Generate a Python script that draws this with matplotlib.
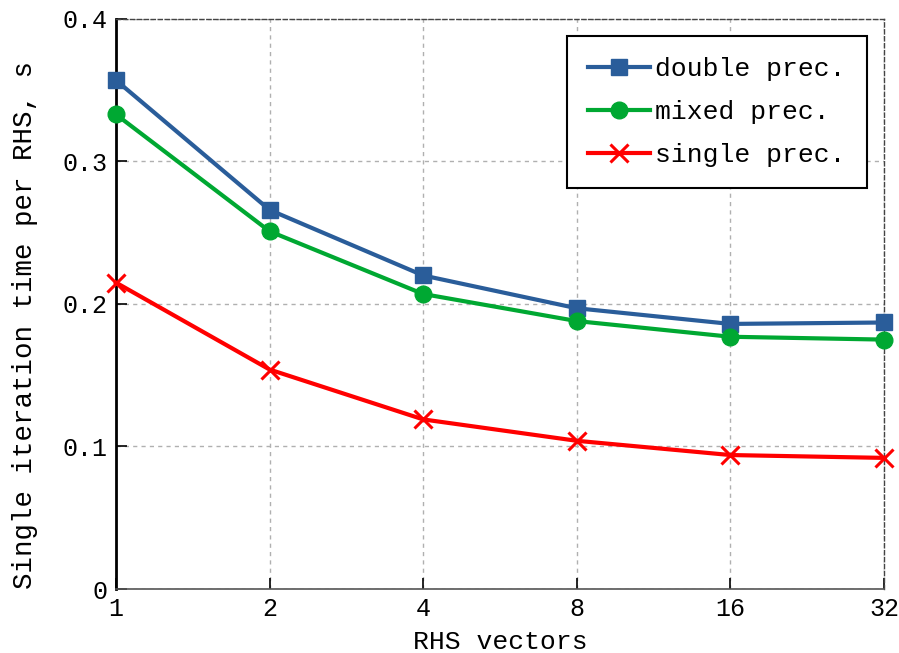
import matplotlib
matplotlib.use("Agg")
import matplotlib.pyplot as plt

rhs = [1, 2, 4, 8, 16, 32]
double_prec = [0.357, 0.266, 0.220, 0.197, 0.186, 0.187]
mixed_prec = [0.333, 0.251, 0.207, 0.188, 0.177, 0.175]
single_prec = [0.215, 0.154, 0.119, 0.104, 0.094, 0.092]
yticks = [0, 0.1, 0.2, 0.3, 0.4]
ytick_labels = ["0", "0.1", "0.2", "0.3", "0.4"]

plt.rcParams["font.family"] = ["Liberation Mono", "DejaVu Sans Mono"]
plt.rcParams["font.size"] = 19

fig = plt.figure(figsize=(8.99, 6.53), dpi=100)
ax = fig.add_axes([0.129, 0.098, 0.8543, 0.873])

ax.plot(rhs, double_prec, color="#2a5d9a", lw=3, marker="s", ms=12,
        label="double prec.", zorder=3, clip_on=False)
ax.plot(rhs, mixed_prec, color="#00a832", lw=3, marker="o", ms=12,
        label="mixed prec.", zorder=3, clip_on=False)
ax.plot(rhs, single_prec, color="#ff0000", lw=3, marker="x", ms=13, mew=2.2,
        label="single prec.", zorder=3, clip_on=False)

ax.set_xscale("log", base=2)
ax.set_xlim(1, 32)
ax.set_ylim(0, 0.4)
ax.set_xticks(rhs)
ax.set_xticklabels([str(v) for v in rhs])
ax.minorticks_off()
ax.set_yticks(yticks)
ax.set_yticklabels(ytick_labels)
ax.tick_params(direction="in", length=8, width=1.2, pad=6, labelsize=18)

ax.grid(True, color="#b0b0b0", ls=(0, (3, 3)), lw=1)

for side in ("top", "right"):
    ax.spines[side].set_linestyle((0, (3, 2)))
    ax.spines[side].set_color("#444444")
    ax.spines[side].set_linewidth(1)
ax.spines["left"].set_linewidth(2)
ax.spines["bottom"].set_linewidth(1.2)
ax.spines["bottom"].set_color("#555555")

ax.set_xlabel("RHS vectors", labelpad=6)
ax.set_ylabel("Single iteration time per RHS, s", fontsize=19.8)
ax.yaxis.set_label_coords(-0.102, 0.463)

leg = ax.legend(loc="upper right", bbox_to_anchor=(0.978, 0.970), fancybox=False,
                framealpha=1, edgecolor="black", handlelength=2.35,
                borderpad=0.8, labelspacing=0.72, handletextpad=0.2,
                borderaxespad=0)
leg.get_frame().set_linewidth(1.5)

fig.savefig("out.png", dpi=100)
